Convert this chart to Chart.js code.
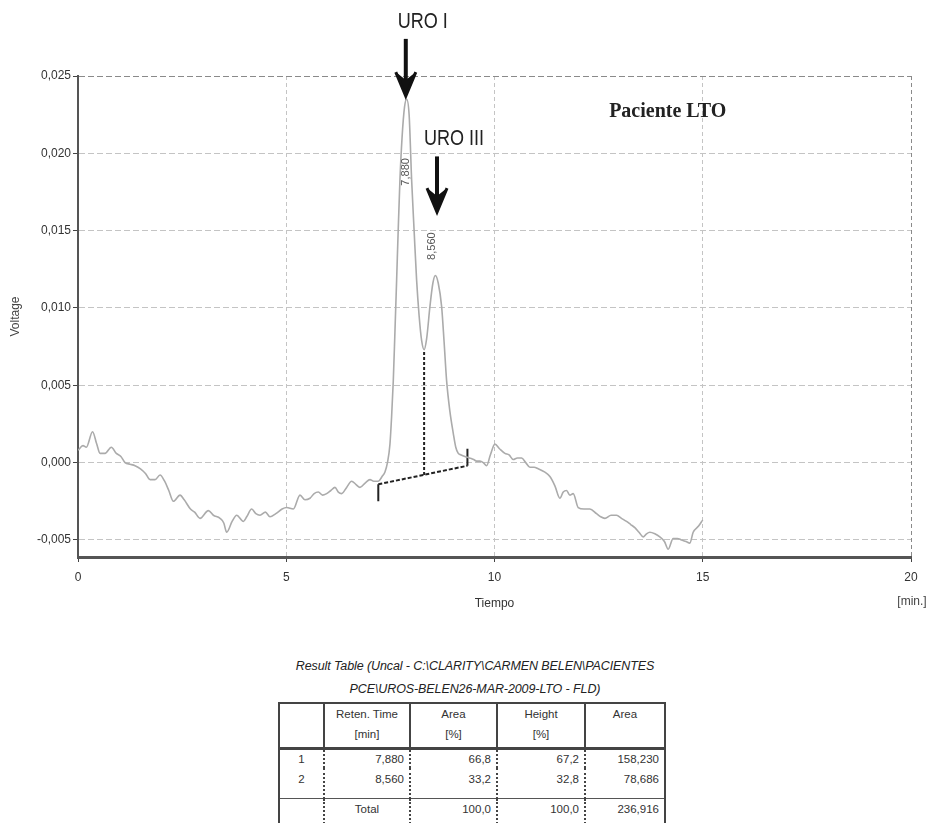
<!DOCTYPE html>
<html>
<head>
<meta charset="utf-8">
<script src="https://cdn.jsdelivr.net/npm/chart.js@4.4.1/dist/chart.umd.min.js"></script>
<style>
  body { margin: 0; background: #fff; width: 931px; height: 823px; overflow: hidden; position: relative;
         font-family: "Liberation Sans", Arial, sans-serif; color: #333; }
  #chart { position: absolute; left: 0; top: 0; }
  #table-title { position: absolute; left: 200px; top: 655px; width: 550px; text-align: center;
                 font-style: italic; font-size: 12.5px; line-height: 23px; color: #222; letter-spacing: -0.1px; }
  #result { position: absolute; left: 278px; top: 702px; border-collapse: collapse; font-size: 11.5px; color: #333;
            border: 2px solid #444; border-bottom: none; }
  #result td { padding: 0 5px; box-sizing: border-box; }
  #result thead td { height: 45px; text-align: center; vertical-align: top; padding-top: 0; line-height: 20px;
                     border-left: 2px solid #444; border-bottom: 3px solid #444; }
  #result tbody td { border-left: 2px dotted #444; text-align: right; vertical-align: top; line-height: 14px; }
  #result tbody td:first-child, #result thead td:first-child { border-left: none; text-align: center; }
  #result tr.r1 td { height: 20px; padding-top: 2px; }
  #result tr.r2 td { height: 30px; padding-top: 4px; }
  #result tr.tot td { height: 26px; padding-top: 3px; border-top: 1px solid #555; }
</style>
</head>
<body>
<canvas id="chart" width="931" height="630"></canvas>
<div id="table-title">Result Table (Uncal - C:\CLARITY\CARMEN BELEN\PACIENTES<br>PCE\UROS-BELEN26-MAR-2009-LTO - FLD)</div>
<table id="result">
  <thead><tr id="head-row"></tr></thead>
  <tbody id="body-rows"></tbody>
</table>
<script>
// Chromatogram trace: time [min] and detector voltage
const timeMin = [
  0.0, 0.12, 0.2, 0.35, 0.45, 0.53, 0.65, 0.8, 0.92, 1.03, 1.13, 1.25, 1.37, 1.5, 1.62, 1.73, 1.85, 1.97,
  2.08, 2.18, 2.29, 2.45, 2.55, 2.7, 2.8, 2.93, 3.13, 3.25, 3.41, 3.5, 3.57, 3.7, 3.81, 3.97, 4.05, 4.17,
  4.27, 4.37, 4.5, 4.61, 4.75, 4.9, 5.01, 5.17, 5.33, 5.45, 5.57, 5.67, 5.77, 5.87, 5.97, 6.07, 6.17, 6.25,
  6.33, 6.45, 6.57, 6.67, 6.77, 6.9, 7.01, 7.1, 7.21, 7.3, 7.37, 7.43, 7.49, 7.53, 7.57, 7.61, 7.65, 7.69,
  7.73, 7.78, 7.84, 7.89, 7.95, 8.01, 8.07, 8.13, 8.19, 8.25, 8.31, 8.37, 8.45, 8.52, 8.58, 8.65, 8.73,
  8.79, 8.85, 8.93, 9.01, 9.07, 9.13, 9.2, 9.29, 9.4, 9.5, 9.57, 9.65, 9.73, 9.81, 9.9, 10.01, 10.12,
  10.25, 10.35, 10.45, 10.55, 10.65, 10.75, 10.85, 10.95, 11.05, 11.2, 11.33, 11.45, 11.57, 11.65, 11.73,
  11.81, 11.89, 12.01, 12.15, 12.29, 12.45, 12.55, 12.65, 12.8, 12.93, 13.05, 13.17, 13.27, 13.37, 13.47,
  13.57, 13.65, 13.73, 13.85, 13.97, 14.08, 14.17, 14.29, 14.39, 14.49, 14.6, 14.69, 14.77, 14.9, 15.0
];
const voltage = [
  0.0008, 0.0011, 0.0010, 0.0020, 0.0012, 0.0006, 0.0006, 0.0010, 0.0006, 0.0004, 0.0000, -0.0001, -0.0002,
  -0.0004, -0.0007, -0.0011, -0.0011, -0.0008, -0.0012, -0.0018, -0.0025, -0.0021, -0.0024, -0.0030, -0.0032,
  -0.0036, -0.0031, -0.0034, -0.0036, -0.0039, -0.0045, -0.0038, -0.0034, -0.0038, -0.0035, -0.0030, -0.0033,
  -0.0034, -0.0032, -0.0035, -0.0033, -0.0030, -0.0029, -0.0030, -0.0021, -0.0024, -0.0023, -0.0020, -0.0019,
  -0.0021, -0.0020, -0.0018, -0.0016, -0.0019, -0.0020, -0.0016, -0.0012, -0.0014, -0.0016, -0.0013, -0.0011,
  -0.0012, -0.0012, -0.0009, -0.0006, 0.0000, 0.0012, 0.0030, 0.0053, 0.0085, 0.0118, 0.0152, 0.0183, 0.0210,
  0.0230, 0.0235, 0.0225, 0.0183, 0.0150, 0.0118, 0.0095, 0.0079, 0.0073, 0.0080, 0.0101, 0.0116, 0.0121,
  0.0116, 0.0101, 0.0078, 0.0053, 0.0033, 0.0019, 0.0010, 0.0006, 0.0005, 0.0004, 0.0003, 0.0002, 0.0001,
  0.0001, 0.0000, -0.0002, 0.0005, 0.0012, 0.0009, 0.0006, 0.0005, 0.0002, 0.0003, 0.0003, 0.0000, -0.0003,
  -0.0003, -0.0004, -0.0006, -0.0009, -0.0015, -0.0023, -0.0019, -0.0018, -0.0021, -0.0020, -0.0029, -0.0030,
  -0.0030, -0.0033, -0.0035, -0.0036, -0.0034, -0.0034, -0.0036, -0.0038, -0.0040, -0.0042, -0.0045, -0.0048,
  -0.0046, -0.0045, -0.0046, -0.0048, -0.0051, -0.0056, -0.0049, -0.0049, -0.0050, -0.0051, -0.0052, -0.0045,
  -0.0041, -0.0037
];

// Integration baseline, its end markers and the peak split line
const baseT = [7.21, 9.35];
const baseV = [-0.0014, -0.0002];
const baseStartTickV = [-0.0014, -0.0025];
const baseEndTickV = [-0.0002, 0.0009];
const splitT = 8.31;
const splitV = [-0.0008, 0.0072];

// Axis ticks
const xTicks = [0, 5, 10, 15, 20];
const yTicks = [-0.005, 0, 0.005, 0.010, 0.015, 0.020, 0.025];

// Peak annotations
const peakNames = ["URO I", "URO III"];
const arrowT = [7.87, 8.62];
const arrowTopV = [0.0274, 0.0198];
const arrowTipV = [0.0237, 0.0162];
const peakRtLabels = ["7,880", "8,560"];
const peakRtT = [7.875, 8.5];
const peakRtV = [0.0188, 0.0140];

// Result table
const tableHeaders = ["", "Reten. Time<br>[min]", "Area<br>[%]", "Height<br>[%]", "Area"];
const peakIds = ["1", "2"];
const retenTimes = ["7,880", "8,560"];
const areaPct = ["66,8", "33,2"];
const heightPct = ["67,2", "32,8"];
const areaAbs = ["158,230", "78,686"];
const totals = ["", "Total", "100,0", "100,0", "236,916"];
const colWidths = [45, 86, 87, 88, 80];

// build table
const headRow = document.getElementById("head-row");
tableHeaders.forEach((h, i) => {
  const td = document.createElement("td");
  td.innerHTML = h;
  td.style.width = colWidths[i] + "px";
  headRow.appendChild(td);
});
const tbody = document.getElementById("body-rows");
peakIds.forEach((id, i) => {
  const tr = document.createElement("tr");
  tr.className = i === 0 ? "r1" : "r2";
  [id, retenTimes[i], areaPct[i], heightPct[i], areaAbs[i]].forEach((v) => {
    const td = document.createElement("td");
    td.textContent = v;
    tr.appendChild(td);
  });
  tbody.appendChild(tr);
});
const totRow = document.createElement("tr");
totRow.className = "tot";
totals.forEach((v, i) => {
  const td = document.createElement("td");
  td.textContent = v;
  if (i === 1) td.style.textAlign = "center";
  totRow.appendChild(td);
});
tbody.appendChild(totRow);

const fmt = (v) => {
  const s = Math.abs(v) < 1e-9 ? "0,000" : v.toFixed(3).replace(".", ",");
  return s;
};

// arrows, peak labels and extra texts
const annotationsPlugin = {
  id: "annotations",
  afterDraw(chart) {
    const { ctx, scales: { x, y }, chartArea } = chart;
    ctx.save();
    peakNames.forEach((name, i) => {
      const px = x.getPixelForValue(arrowT[i]);
      const top = y.getPixelForValue(arrowTopV[i]);
      const tip = y.getPixelForValue(arrowTipV[i]);
      ctx.strokeStyle = "#111";
      ctx.fillStyle = "#111";
      ctx.lineWidth = 4;
      ctx.beginPath();
      ctx.moveTo(px, top);
      ctx.lineTo(px, tip - 14);
      ctx.stroke();
      ctx.beginPath();
      ctx.moveTo(px - 10, tip - 24);
      ctx.lineTo(px, tip - 16);
      ctx.lineTo(px + 10, tip - 24);
      ctx.lineTo(px, tip);
      ctx.closePath();
      ctx.fill();
      ctx.lineWidth = 3;
      ctx.beginPath();
      ctx.moveTo(px - 10, tip - 24);
      ctx.lineTo(px, tip);
      ctx.lineTo(px + 10, tip - 24);
      ctx.stroke();
      // name
      ctx.save();
      ctx.translate(px + 17, top - 17);
      ctx.scale(0.82, 1);
      ctx.font = "22px 'Liberation Sans', Arial, sans-serif";
      ctx.textAlign = "center";
      ctx.textBaseline = "middle";
      ctx.fillStyle = "#222";
      ctx.fillText(name, 0, 0);
      ctx.restore();
    });
    peakRtLabels.forEach((lab, i) => {
      ctx.save();
      ctx.translate(x.getPixelForValue(peakRtT[i]), y.getPixelForValue(peakRtV[i]));
      ctx.rotate(-Math.PI / 2);
      ctx.font = "11px 'Liberation Sans', Arial, sans-serif";
      ctx.fillStyle = "#555";
      ctx.textAlign = "center";
      ctx.textBaseline = "middle";
      ctx.fillText(lab, 0, 0);
      ctx.restore();
    });
    ctx.font = "bold 20px 'Liberation Serif', 'Times New Roman', serif";
    ctx.fillStyle = "#222";
    ctx.textAlign = "center";
    ctx.textBaseline = "middle";
    ctx.fillText("Paciente LTO", x.getPixelForValue(14.16), y.getPixelForValue(0.0227));
    ctx.font = "12px 'Liberation Sans', Arial, sans-serif";
    ctx.fillStyle = "#444";
    ctx.fillText("[min.]", chartArea.right + 1, chartArea.bottom + 45);
    ctx.restore();
  },
};

const tracePoints = timeMin.map((t, i) => ({ x: t, y: voltage[i] }));
const baselinePoints = baseT.map((t, i) => ({ x: t, y: baseV[i] }));

const lineStyle = { pointRadius: 0, fill: false };

new Chart(document.getElementById("chart").getContext("2d"), {
  type: "line",
  data: {
    datasets: [
      {
        label: "Voltage",
        data: tracePoints,
        borderColor: "#ababab",
        borderWidth: 1.6,
        cubicInterpolationMode: "monotone",
        ...lineStyle,
      },
      {
        label: "Baseline",
        data: baselinePoints,
        borderColor: "#222",
        borderWidth: 2,
        borderDash: [4, 2],
        ...lineStyle,
      },
      {
        label: "Start",
        data: baseStartTickV.map((v) => ({ x: baseT[0], y: v })),
        borderColor: "#222",
        borderWidth: 2,
        ...lineStyle,
      },
      {
        label: "End",
        data: baseEndTickV.map((v) => ({ x: baseT[1], y: v })),
        borderColor: "#222",
        borderWidth: 2,
        ...lineStyle,
      },
      {
        label: "Split",
        data: splitV.map((v) => ({ x: splitT, y: v })),
        borderColor: "#222",
        borderWidth: 2,
        borderDash: [3, 2],
        ...lineStyle,
      },
    ],
  },
  options: {
    responsive: false,
    animation: false,
    devicePixelRatio: 1,
    layout: { padding: { left: 0, top: 76, right: 20, bottom: 0 } },
    plugins: { legend: { display: false }, tooltip: { enabled: false } },
    scales: {
      x: {
        type: "linear",
        min: 0,
        max: 20,
        afterFit: (scale) => { scale.height = 73; },
        afterBuildTicks: (scale) => { scale.ticks = xTicks.map((v) => ({ value: v })); },
        ticks: { color: "#333", font: { size: 12 }, padding: 8, maxRotation: 0 },
        grid: {
          color: (c) => (c.tick && c.tick.value === 20 ? "#8a8a8a" : "#c4c4c4"),
          tickColor: "#444",
          tickLength: 5,
          lineWidth: 1,
        },
        border: { display: true, color: "#555", width: 3, dash: [4, 3] },
        title: { display: true, text: "Tiempo", color: "#333", font: { size: 12 }, padding: { top: 0, bottom: 19 } },
      },
      y: {
        type: "linear",
        min: -0.0061,
        max: 0.025,
        afterFit: (scale) => { scale.width = 78; },
        afterBuildTicks: (scale) => { scale.ticks = yTicks.map((v) => ({ value: v })); },
        ticks: { color: "#333", font: { size: 12 }, padding: 2, callback: (v) => fmt(v) },
        grid: {
          color: (c) => (c.tick && Math.abs(c.tick.value - 0.025) < 1e-9 ? "#8a8a8a" : "#c4c4c4"),
          tickColor: "#444",
          tickLength: 5,
          lineWidth: 1,
        },
        border: { display: true, color: "#555", width: 2, dash: [6, 3] },
        title: { display: true, text: "Voltage", color: "#444", font: { size: 12 }, padding: { top: 8, bottom: 0 } },
      },
    },
  },
  plugins: [annotationsPlugin],
});
</script>
</body>
</html>
